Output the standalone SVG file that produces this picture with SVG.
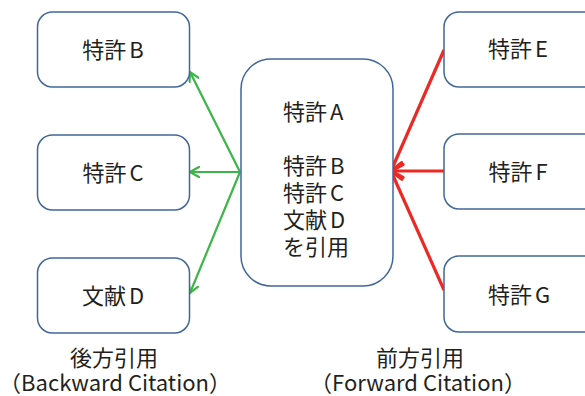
<svg xmlns="http://www.w3.org/2000/svg" width="585" height="396" viewBox="0 0 585 396">
<style>
.box{fill:#fff;stroke:#41679a;stroke-width:1.5}
text{font-family:"Noto Sans CJK JP","Noto Sans",sans-serif;font-size:22px;fill:#231f20}
.c{text-anchor:middle}
.g{stroke:#3db549;stroke-width:2.2;fill:none}
.r{stroke:#ec2a25;stroke-width:3.2;fill:none}
</style>
<defs>
<marker id="ga" markerWidth="12" markerHeight="12" refX="10" refY="6" orient="auto" markerUnits="userSpaceOnUse">
<path d="M1,1 L10,6 L1,11" fill="none" stroke="#3db549" stroke-width="2.2" stroke-linecap="round"/>
</marker>
<marker id="ra" markerWidth="16" markerHeight="16" refX="14" refY="8" orient="auto" markerUnits="userSpaceOnUse">
<path d="M2,1.5 L14,8 L2,14.5" fill="none" stroke="#ec2a25" stroke-width="3.2" stroke-linecap="round"/>
</marker>
</defs>
<g id="connectors">
<line class="g" x1="240" y1="172" x2="190" y2="72" marker-end="url(#ga)"/>
<line class="g" x1="240" y1="172" x2="190" y2="172" marker-end="url(#ga)"/>
<line class="g" x1="240" y1="172" x2="190" y2="293" marker-end="url(#ga)"/>
<line class="r" x1="444" y1="50" x2="391" y2="171" marker-end="url(#ra)"/>
<line class="r" x1="444" y1="171" x2="391" y2="171" marker-end="url(#ra)"/>
<line class="r" x1="444" y1="290" x2="391" y2="171" marker-end="url(#ra)"/>
</g>
<g id="nodeB"><rect class="box" x="37.5" y="12" width="152" height="75" rx="15"/><text class="c" x="113" y="58">特許<tspan dx="3">B</tspan></text></g>
<g id="nodeC"><rect class="box" x="37.5" y="135" width="152" height="75" rx="15"/><text class="c" x="113" y="181">特許<tspan dx="3">C</tspan></text></g>
<g id="nodeD"><rect class="box" x="37.5" y="258" width="152" height="75" rx="15"/><text class="c" x="113" y="304">文献<tspan dx="3">D</tspan></text></g>
<g id="nodeA"><rect class="box" x="241" y="59" width="152" height="227" rx="30"/>
<text x="283" y="120">特許<tspan dx="3">A</tspan></text>
<text x="283" y="174">特許<tspan dx="3">B</tspan></text>
<text x="283" y="201">特許<tspan dx="3">C</tspan></text>
<text x="283" y="228">文献<tspan dx="3">D</tspan></text>
<text x="283" y="255">を引用</text>
</g>
<g id="nodeE"><rect class="box" x="444" y="12" width="160" height="75" rx="15"/><text class="c" x="518" y="57">特許<tspan dx="3">E</tspan></text></g>
<g id="nodeF"><rect class="box" x="444" y="134" width="160" height="75" rx="15"/><text class="c" x="518" y="180">特許<tspan dx="3">F</tspan></text></g>
<g id="nodeG"><rect class="box" x="444" y="256" width="160" height="76" rx="15"/><text class="c" x="519" y="303">特許<tspan dx="3">G</tspan></text></g>
<g id="labels">
<text class="c" x="114" y="366">後方引用</text>
<text class="c" x="115" y="391">（Backward Citation）</text>
<text class="c" x="420" y="366">前方引用</text>
<text class="c" x="418" y="391">（Forward Citation）</text>
</g>
</svg>
